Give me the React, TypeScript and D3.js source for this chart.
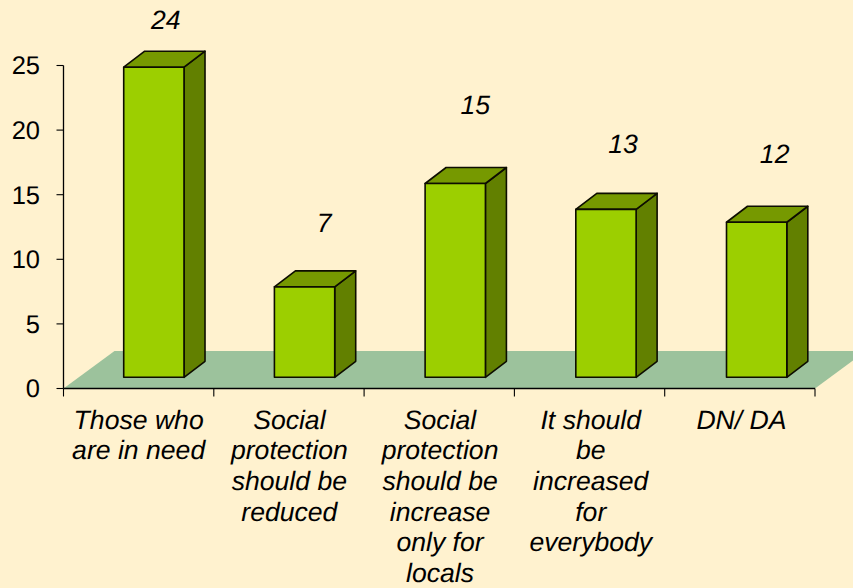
import * as d3 from "d3";
import { useEffect, useRef } from "react";

const categories = ["need", "reduced", "locals", "everybody", "dnda"];
const values = [24, 7, 15, 13, 12];
const valueLabels = ["24", "7", "15", "13", "12"];
const labelLines = [
  ["Those who", "are in need"],
  ["Social", "protection", "should be", "reduced"],
  ["Social", "protection", "should be", "increase", "only for", "locals"],
  ["It should", "be", "increased", "for", "everybody"],
  ["DN/ DA"],
];
const yTicks = [0, 5, 10, 15, 20, 25];

const width = 853;
const height = 588;
const font = "'Liberation Sans', Arial, sans-serif";

// the value labels were dragged by hand in the original, so they sit unevenly
const labelNudgeX = [12, 19.5, 20, 17, 18];
const labelNudgeY = [-38, -54.6, -70, -56, -59];

export default function App() {
  const ref = useRef<SVGSVGElement>(null);

  useEffect(() => {
    document.body.style.margin = "0";
    const svg = d3.select(ref.current);
    svg.selectAll("*").remove();

    const x = d3
      .scaleBand<string>()
      .domain(categories)
      .range([63.5, 817])
      .paddingInner(0.6)
      .paddingOuter(0.3);
    const xTick = d3.scaleLinear().domain([0, categories.length]).range([63.5, 815]);
    const y = d3.scaleLinear().domain([0, 25]).range([388.5, 65.5]);

    // depth of the fake 3d: bars stand in the middle of the floor
    const floorDx = 51;
    const floorDy = -37.5;
    const barDx = 21;
    const barDy = -16;
    const shiftX = 15;
    const shiftY = -11.2;

    svg.append("rect").attr("width", width).attr("height", height).attr("fill", "#fff2cf");

    const [x0, x1] = xTick.range();
    svg
      .append("path")
      .attr(
        "d",
        d3.line()([
          [x0, y(0)],
          [x1, y(0)],
          [x1 + floorDx, y(0) + floorDy],
          [x0 + floorDx, y(0) + floorDy],
        ]) + "Z"
      )
      .attr("fill", "#9cc29c");

    const bars = svg
      .append("g")
      .selectAll("g")
      .data(values)
      .join("g")
      .attr("stroke", "#0d0d00")
      .attr("stroke-width", 1.6)
      .attr("stroke-linejoin", "round");

    const bw = 60.3;
    const left = (_: number, i: number) => x(categories[i])! + shiftX;
    const right = (_: number, i: number) => left(0, i) + bw;
    const top = (d: number) => y(d) + shiftY;
    const bottom = y(0) + shiftY;

    bars
      .append("path")
      .attr("fill", "#628000")
      .attr("d", (d, i) =>
        d3.line()([
          [right(d, i), top(d)],
          [right(d, i) + barDx, top(d) + barDy],
          [right(d, i) + barDx, bottom + barDy],
          [right(d, i), bottom],
        ]) + "Z"
      );
    bars
      .append("path")
      .attr("fill", "#769900")
      .attr("d", (d, i) =>
        d3.line()([
          [left(d, i), top(d)],
          [left(d, i) + barDx, top(d) + barDy],
          [right(d, i) + barDx, top(d) + barDy],
          [right(d, i), top(d)],
        ]) + "Z"
      );
    bars
      .append("rect")
      .attr("fill", "#9ccf00")
      .attr("x", left)
      .attr("y", top)
      .attr("width", bw)
      .attr("height", (d) => bottom - top(d));

    const yAxis = svg.append("g").attr("stroke", "#000");
    yAxis
      .append("line")
      .attr("x1", x0)
      .attr("x2", x0)
      .attr("y1", y(25))
      .attr("y2", y(0))
      .attr("stroke-width", 1.3);
    yAxis
      .selectAll("line.tick")
      .data(yTicks)
      .join("line")
      .attr("class", "tick")
      .attr("x1", x0 - 7)
      .attr("x2", x0)
      .attr("y1", (d) => y(d))
      .attr("y2", (d) => y(d))
      .attr("stroke-width", 1.1);
    svg
      .append("g")
      .selectAll("text")
      .data(yTicks)
      .join("text")
      .attr("x", 40)
      .attr("y", (d) => y(d))
      .attr("dy", "0.35em")
      .attr("text-anchor", "end")
      .attr("font-family", font)
      .attr("font-size", 25.5)
      .attr("text-rendering", "geometricPrecision")
      .attr("fill", "#000")
      .text((d) => d);

    const xAxis = svg.append("g").attr("stroke", "#000");
    xAxis
      .append("line")
      .attr("x1", x0)
      .attr("x2", x1)
      .attr("y1", y(0))
      .attr("y2", y(0))
      .attr("stroke-width", 1.3);
    xAxis
      .selectAll("line.tick")
      .data(d3.range(categories.length + 1))
      .join("line")
      .attr("class", "tick")
      .attr("x1", (i) => xTick(i))
      .attr("x2", (i) => xTick(i))
      .attr("y1", y(0))
      .attr("y2", y(0) + 8)
      .attr("stroke-width", 1.1);

    // category labels, one tspan per line
    svg
      .append("g")
      .selectAll("text")
      .data(labelLines)
      .join("text")
      .attr("font-family", font)
      .attr("font-style", "italic")
      .attr("font-size", 26.6)
      .attr("text-rendering", "geometricPrecision")
      .attr("fill", "#000")
      .attr("text-anchor", "middle")
      .each(function (lines, i) {
        const cx = x(categories[i])! + bw / 2 - 0.2;
        d3.select(this)
          .selectAll("tspan")
          .data(lines)
          .join("tspan")
          .attr("x", cx)
          .attr("y", (_, j) => 428.5 + j * 30.7)
          .text((d) => d);
      });

    // value labels float above the bars
    svg
      .append("g")
      .selectAll("text")
      .data(values)
      .join("text")
      .attr("font-family", font)
      .attr("font-style", "italic")
      .attr("font-size", 26.6)
      .attr("text-rendering", "geometricPrecision")
      .attr("fill", "#000")
      .attr("text-anchor", "middle")
      .attr("x", (d, i) => left(d, i) + bw / 2 + labelNudgeX[i])
      .attr("y", (d, i) => top(d) + labelNudgeY[i])
      .text((_, i) => valueLabels[i]);
  }, []);

  return (
    <svg
      ref={ref}
      width={width}
      height={height}
      viewBox={`0 0 ${width} ${height}`}
      style={{ display: "block" }}
    />
  );
}
